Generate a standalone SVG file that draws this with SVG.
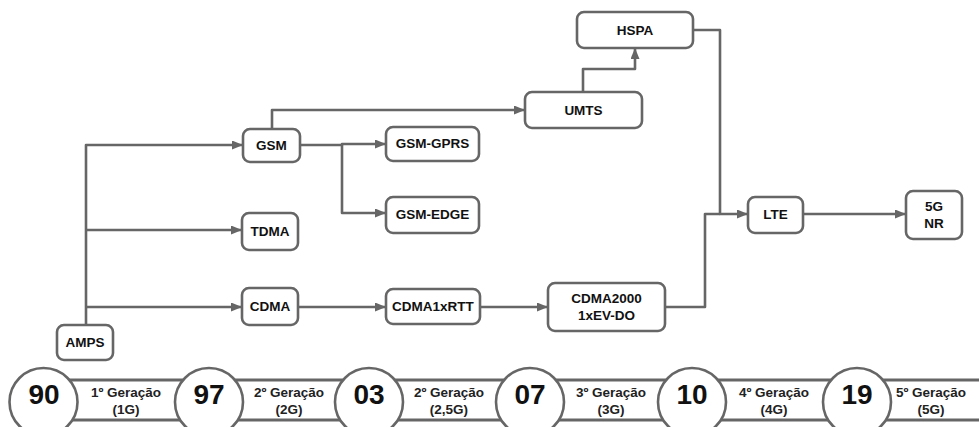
<svg xmlns="http://www.w3.org/2000/svg" width="979" height="427" viewBox="0 0 979 427">
<style>
.n rect{fill:#fff;stroke:#666;stroke-width:2.6}
.n text{font-family:"Liberation Sans",Arial,sans-serif;font-weight:bold;font-size:13.5px;fill:#111;text-anchor:middle}
.c path{fill:none;stroke:#666;stroke-width:2.6;stroke-linejoin:round}
.t ellipse{fill:#fff;stroke:#666;stroke-width:2.6}
.t .num{font-family:"Liberation Sans",Arial,sans-serif;font-weight:bold;font-size:28px;fill:#111;text-anchor:middle}
.t .lab{font-family:"Liberation Sans",Arial,sans-serif;font-weight:bold;font-size:13.5px;fill:#222;text-anchor:middle}
.band{stroke:#666;stroke-width:3;fill:none}
</style>
<defs>
<marker id="ah" markerWidth="11" markerHeight="9" refX="10" refY="4.5" orient="auto" markerUnits="userSpaceOnUse">
<path d="M0,0 L11,4.5 L0,9 Z" fill="#666"/>
</marker>
</defs>
<rect width="979" height="427" fill="#fff"/>
<g class="c" id="connectors">
<path d="M86,325 V145 H242" marker-end="url(#ah)"/>
<path d="M86,230 H241" marker-end="url(#ah)"/>
<path d="M86,307 H241" marker-end="url(#ah)"/>
<path d="M272,129 V110 H524" marker-end="url(#ah)"/>
<path d="M300,145 H342 V144 H385" marker-end="url(#ah)"/>
<path d="M342,145 V213 H385" marker-end="url(#ah)"/>
<path d="M298,307 H385" marker-end="url(#ah)"/>
<path d="M480,307 H547" marker-end="url(#ah)"/>
<path d="M583,92 V69 H635 V49" marker-end="url(#ah)"/>
<path d="M693,30 H720 V214 H747" marker-end="url(#ah)"/>
<path d="M665,307 H705 V214 H720"/>
<path d="M803,214 H905" marker-end="url(#ah)"/>
</g>
<g class="n" id="amps"><rect x="57" y="325" width="56" height="35" rx="7"/><text x="85" y="347">AMPS</text></g>
<g class="n" id="gsm"><rect x="243" y="129" width="57" height="33" rx="7"/><text x="271.5" y="150">GSM</text></g>
<g class="n" id="tdma"><rect x="242" y="213" width="56" height="37" rx="7"/><text x="270" y="236">TDMA</text></g>
<g class="n" id="cdma"><rect x="242" y="288" width="56" height="37" rx="7"/><text x="270" y="311">CDMA</text></g>
<g class="n" id="gsm-gprs"><rect x="386" y="127" width="93" height="34" rx="7"/><text x="432.5" y="148">GSM-GPRS</text></g>
<g class="n" id="gsm-edge"><rect x="386" y="197" width="93" height="36" rx="7"/><text x="432.5" y="219">GSM-EDGE</text></g>
<g class="n" id="cdma1xrtt"><rect x="386" y="289" width="94" height="35" rx="7"/><text x="433" y="311">CDMA1xRTT</text></g>
<g class="n" id="umts"><rect x="525" y="92" width="117" height="36" rx="7"/><text x="583.5" y="115">UMTS</text></g>
<g class="n" id="hspa"><rect x="577" y="12" width="116" height="36" rx="7"/><text x="635" y="35">HSPA</text></g>
<g class="n" id="cdma2000"><rect x="548" y="283" width="117" height="48" rx="7"/><text x="606.5" y="303">CDMA2000</text><text x="606.5" y="320">1xEV-DO</text></g>
<g class="n" id="lte"><rect x="748" y="197" width="55" height="36" rx="7"/><text x="775.5" y="219">LTE</text></g>
<g class="n" id="nr5g"><rect x="906" y="191" width="56" height="48" rx="7"/><text x="934" y="211">5G</text><text x="934" y="228">NR</text></g>
<g class="t" id="timeline">
<path class="band" d="M43,380 H979 M43,420 H979"/>
<ellipse cx="43.5" cy="402" rx="34" ry="34"/>
<ellipse cx="209" cy="402" rx="34" ry="34"/>
<ellipse cx="369" cy="402" rx="34" ry="34"/>
<ellipse cx="530" cy="402" rx="34" ry="34"/>
<ellipse cx="692" cy="402" rx="34" ry="34"/>
<ellipse cx="857" cy="402" rx="34" ry="34"/>
<text class="num" x="44" y="404">90</text>
<text class="num" x="209" y="404">97</text>
<text class="num" x="369" y="404">03</text>
<text class="num" x="530" y="404">07</text>
<text class="num" x="692" y="404">10</text>
<text class="num" x="857" y="404">19</text>
<text class="lab" x="126" y="397">1º Geração</text><text class="lab" x="126" y="414">(1G)</text>
<text class="lab" x="289" y="397">2º Geração</text><text class="lab" x="289" y="414">(2G)</text>
<text class="lab" x="449" y="397">2º Geração</text><text class="lab" x="449" y="414">(2,5G)</text>
<text class="lab" x="611" y="397">3º Geração</text><text class="lab" x="611" y="414">(3G)</text>
<text class="lab" x="774" y="397">4º Geração</text><text class="lab" x="774" y="414">(4G)</text>
<text class="lab" x="931" y="397">5º Geração</text><text class="lab" x="931" y="414">(5G)</text>
</g>
</svg>
